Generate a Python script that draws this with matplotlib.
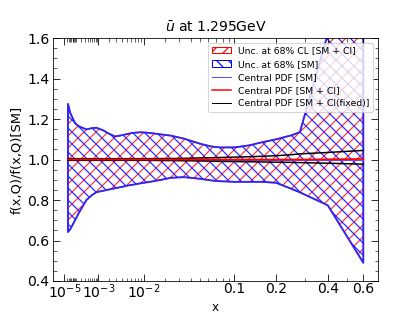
import numpy as np
import matplotlib
matplotlib.use("Agg")
import matplotlib.pyplot as plt
from matplotlib.ticker import MultipleLocator
from matplotlib.patches import Patch
from matplotlib.lines import Line2D

# x grid of the curves
x = [2.5e-5, 4e-5, 9e-5, 1.5e-4, 2.6e-4, 3.6e-4, 5.8e-4, 8.6e-4, 1.4e-3, 1.9e-3,
     2.8e-3, 4e-3, 5.3e-3, 6.6e-3, 9e-3, 0.012, 0.018, 0.024, 0.034, 0.05,
     0.063, 0.075, 0.1, 0.13, 0.16, 0.2, 0.25, 0.28, 0.4, 0.6]

# 68% band [SM] (ratio to SM central)
sm_hi = [1.275, 1.23, 1.18, 1.165, 1.155, 1.149, 1.155, 1.157, 1.144, 1.13,
         1.114, 1.12, 1.127, 1.132, 1.135, 1.132, 1.124, 1.118, 1.103, 1.078,
         1.065, 1.06, 1.06, 1.07, 1.085, 1.10, 1.12, 1.135, 1.62, 2.3]
sm_lo = [0.642, 0.656, 0.70, 0.735, 0.774, 0.80, 0.823, 0.839, 0.846, 0.851,
         0.858, 0.865, 0.872, 0.876, 0.883, 0.889, 0.90, 0.91, 0.913, 0.905,
         0.897, 0.893, 0.89, 0.89, 0.89, 0.885, 0.855, 0.838, 0.774, 0.49]

# 68% band [SM + CI] - lies on top of the SM band
ci_hi = [1.275, 1.23, 1.18, 1.165, 1.155, 1.149, 1.155, 1.157, 1.144, 1.13,
         1.114, 1.12, 1.127, 1.132, 1.135, 1.132, 1.124, 1.118, 1.103, 1.078,
         1.065, 1.06, 1.06, 1.07, 1.085, 1.10, 1.12, 1.135, 1.62, 2.3]
ci_lo = [0.642, 0.656, 0.70, 0.735, 0.774, 0.80, 0.823, 0.839, 0.846, 0.851,
         0.858, 0.865, 0.872, 0.876, 0.883, 0.889, 0.90, 0.91, 0.913, 0.905,
         0.897, 0.893, 0.89, 0.89, 0.89, 0.885, 0.855, 0.838, 0.774, 0.49]

central_sm = [1.0] * len(x)
central_ci = [1.0] * 28 + [1.001, 1.003]
fixed_hi = [1.004] * 15 + [1.004, 1.005, 1.005, 1.006, 1.008, 1.009, 1.01, 1.012,
                           1.014, 1.016, 1.019, 1.024, 1.028, 1.035, 1.045]
fixed_lo = [0.996] * 15 + [0.996, 0.995, 0.995, 0.994, 0.993, 0.992, 0.991, 0.99,
                           0.989, 0.988, 0.987, 0.986, 0.985, 0.982, 0.977]

major_x = [1e-5, 1e-3, 1e-2, 0.1, 0.2, 0.4, 0.6]
major_lab = ["$10^{-5}$", "$10^{-3}$", "$10^{-2}$", "0.1", "0.2", "0.4", "0.6"]
minor_x = ([k * 1e-5 for k in range(2, 10)] + [k * 1e-4 for k in range(1, 10)]
           + [k * 1e-3 for k in range(2, 10)] + [k * 1e-2 for k in range(2, 10)]
           + [0.3, 0.5])


def fwd(v):
    v = np.asarray(v, dtype=float)
    return np.sign(v) * np.abs(v) ** 0.3


def inv(v):
    v = np.asarray(v, dtype=float)
    return np.sign(v) * np.abs(v) ** (1 / 0.3)


plt.rcParams["hatch.linewidth"] = 1.2

fig = plt.figure(figsize=(420 / 72, 315 / 72), dpi=72)
ax = fig.add_axes([0.126, 0.108, 0.774, 0.771])
ax.set_xscale("function", functions=(fwd, inv))

ax.fill_between(x, ci_lo, ci_hi, facecolor="none", edgecolor=(1, 0.2, 0.2),
                hatch="//", linewidth=1.5)
ax.fill_between(x, sm_lo, sm_hi, facecolor="none", edgecolor=(0.15, 0.15, 1),
                hatch="\\\\", linewidth=1.8)
ax.plot(x, central_sm, color="#5050ff", lw=1)
ax.plot(x, fixed_hi, color="black", lw=1.5)
ax.plot(x, fixed_lo, color="black", lw=1.5)
ax.plot(x, central_ci, color="red", lw=1.8)

ax.set_xlim(0, 0.7)
ax.set_ylim(0.4, 1.6)
ax.set_xticks(major_x, major_lab, fontsize=14)
ax.set_xticks(minor_x, minor=True)
ax.yaxis.set_minor_locator(MultipleLocator(0.05))
ax.set_yticks(np.arange(0.4, 1.61, 0.2))
ax.set_yticklabels([f"{v:.1f}" for v in np.arange(0.4, 1.61, 0.2)], fontsize=14)
ax.tick_params(which="both", direction="in", top=True, right=True)
ax.tick_params(which="major", length=7)
ax.tick_params(which="minor", length=3.5)
ax.tick_params(axis="x", which="major", pad=1)

ax.set_title(r"$\bar{u}$ at 1.295GeV", fontsize=14)
ax.set_xlabel("x", fontsize=12, labelpad=0)
ax.set_ylabel("f(x,Q)/f(x,Q)[SM]", fontsize=13)

handles = [
    Patch(facecolor="none", edgecolor="red", hatch="//", label="Unc. at 68% CL [SM + CI]"),
    Patch(facecolor="none", edgecolor="blue", hatch="\\\\", label="Unc. at 68% [SM]"),
    Line2D([], [], color="#5050ff", lw=1, label="Central PDF [SM]"),
    Line2D([], [], color="red", lw=1.5, label="Central PDF [SM + CI]"),
    Line2D([], [], color="black", lw=1, label="Central PDF [SM + CI(fixed)]"),
]
ax.legend(handles=handles, loc="upper right", fontsize=9.3, labelspacing=0.45)

fig.savefig("out.png", dpi=72)
